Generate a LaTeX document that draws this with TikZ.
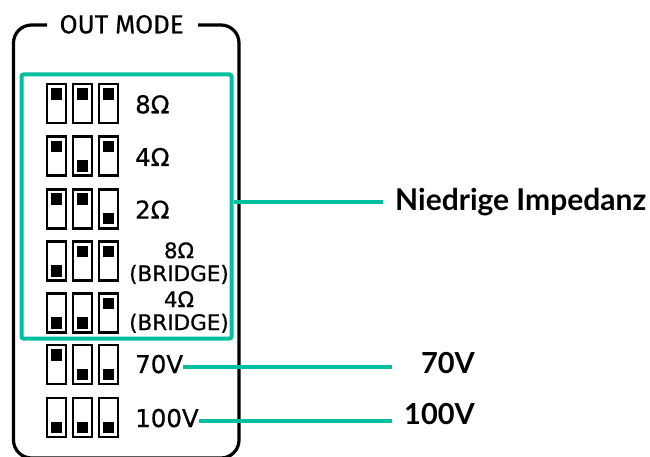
\documentclass[tikz,border=0pt]{standalone}
\usepackage{fontspec}
\setmainfont{Fira Sans}[FakeBold=0.5]
\newfontfamily\boldlab{Lato}
\newfontfamily\labfont{DejaVu Sans}[FakeBold=0.7]
\definecolor{tealc}{HTML}{00BFA0}
\tikzset{
  sw/.style={draw=black,line width=2.6pt,fill=white,minimum width=19pt,minimum height=39pt,inner sep=0pt},
  knob/.style={fill=black,minimum size=11.5pt,inner sep=0pt},
  lab/.style={anchor=base west,inner sep=0pt,font=\labfont\fontsize{24.5}{24.5}\selectfont},
  blab/.style={anchor=north,align=center,inner sep=0pt,font=\labfont\fontsize{21.5}{23}\selectfont},
  rlab/.style={inner sep=0pt,font=\boldlab\bfseries\fontsize{29}{29}\selectfont},
  tealline/.style={draw=tealc,line width=3.6pt},
  frame/.style={draw=black,line width=3.2pt,rounded corners=18pt},
  group/.style={draw=tealc,line width=4pt,rounded corners=2pt,minimum width=210pt,minimum height=264pt,inner sep=0pt},
}
\newcommand{\dip}[5]{%
  \foreach \xx/\kk [count=\i] in {56.5/#3, 82.5/#4, 108.5/#5} {
    \node[sw] (#1s\i) at (\xx, #2+20.5) {};
    \node[knob] (#1k\i) at (\xx, #2+\kk) {};
  }%
}
\begin{document}
\begin{tikzpicture}[x=1pt,y=-1pt]
\useasboundingbox (0,0) rectangle (650,457);
% outer frame with title gap
\node[inner sep=0pt,anchor=base,font=\fontsize{26}{26}\selectfont] (title) at (121.7,33.3) {OUT MODE};
\draw[frame] (47,25) -- (13.5,25) -- (13.5,458) -- (239,458) -- (239,25) -- (198,25);
% teal group box
\node[group] (grp) at (126.5,206.5) {};
% dip switches (T = 10.8, B = 30.4)
\dip{a}{83}{10.8}{10.8}{10.8}
\dip{b}{135.7}{10.8}{30.4}{10.8}
\dip{c}{188.3}{10.8}{10.8}{30.4}
\dip{d}{240.5}{30.4}{10.8}{10.8}
\dip{e}{292.5}{30.4}{30.4}{10.8}
\dip{f}{344}{10.8}{30.4}{30.4}
\dip{g}{397}{30.4}{30.4}{30.4}
% labels
\node[lab] (la) at (135,113.3) {8Ω};
\node[lab] (lb) at (135,166) {4Ω};
\node[lab] (lc) at (135,218.6) {2Ω};
\node[blab] (ld) at (179,242) {8Ω\\(BRIDGE)};
\node[blab] (le) at (179,291) {4Ω\\(BRIDGE)};
\node[lab] (lf) at (135,373) {70V};
\node[lab] (lg) at (135,427) {100V};
% right labels
\node[rlab,anchor=base west,font=\boldlab\bfseries\fontsize{30}{30}\selectfont] (nied) at (395,210.7) {Niedrige Impedanz};
\node[rlab,anchor=base east] (r70) at (475,373.3) {70V};
\node[rlab,anchor=base east] (r100) at (475,424) {100V};
% connectors
\coordinate (n1) at (383,202);
\coordinate (n2) at (392,367);
\coordinate (n3) at (392,421);
\draw[tealline] (grp.east |- n1) -- (n1);
\draw[tealline] (lf.east |- n2) -- (n2);
\draw[tealline] (lg.east |- n3) -- (n3);
\end{tikzpicture}
\end{document}
